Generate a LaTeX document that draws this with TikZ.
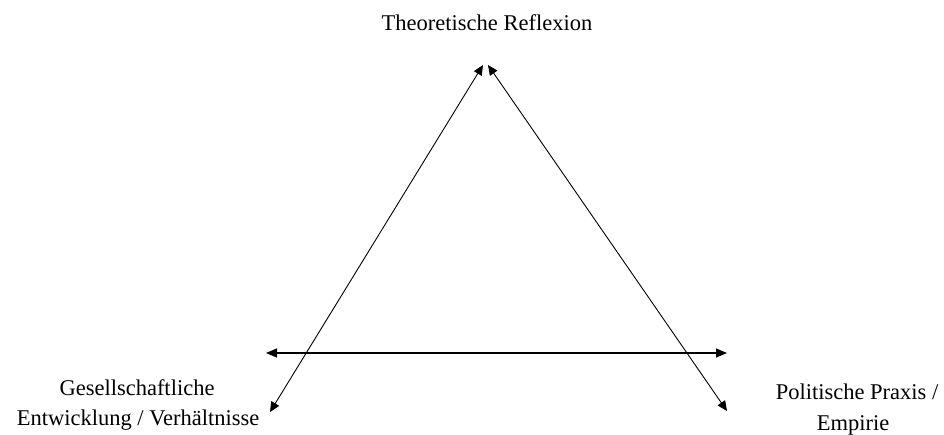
\documentclass[tikz,border=0pt]{standalone}
\usepackage{fontspec}
\setmainfont{Liberation Serif}
\usetikzlibrary{arrows.meta}
\tikzset{
  lbl/.style={inner sep=0pt, anchor=base, font=\fontsize{22.5}{28}\selectfont},
  diag/.style={line width=0.9pt, {Triangle[length=10pt,width=9pt]}-{Triangle[length=10pt,width=9pt]}},
  horiz/.style={line width=1.2pt, {Triangle[length=11pt,width=9pt]}-{Triangle[length=11pt,width=9pt]}}
}
\begin{document}
\begin{tikzpicture}[x=1pt,y=-1pt]
\useasboundingbox[fill=white] (0,0) rectangle (944,434);
\node[lbl] (top) at (487,30) {Theoretische Reflexion};
\node[lbl] (left1) at (137,395) {Gesellschaftliche};
\node[lbl] (left2) at (138,425) {Entwicklung / Verhältnisse};
\node[lbl] (right1) at (857,399) {Politische Praxis /};
\node[lbl] (right2) at (853,430) {Empirie};
\coordinate (a1) at (483,65);
\coordinate (b1) at (270,412);
\coordinate (a2) at (488,65);
\coordinate (b2) at (727,411);
\coordinate (h1) at (266,353);
\coordinate (h2) at (727,353);
\draw[diag] (a1) -- (b1);
\draw[diag] (a2) -- (b2);
\draw[horiz] (h1) -- (h2);
\end{tikzpicture}
\end{document}
